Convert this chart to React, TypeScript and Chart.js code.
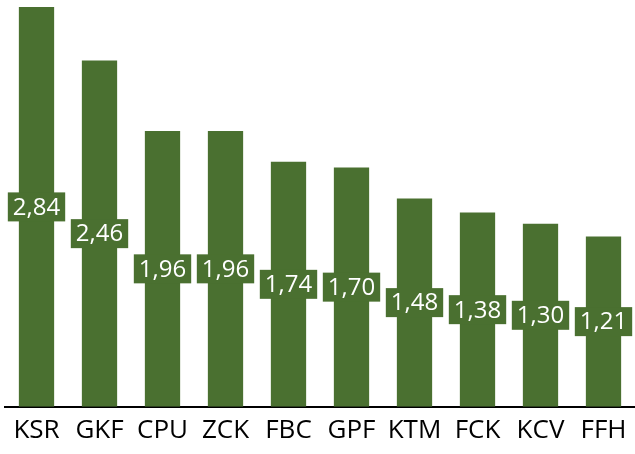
import React, { useEffect, useRef } from "react";
import { Chart, registerables } from "chart.js";

Chart.register(...registerables);

const categories = ["KSR", "GKF", "CPU", "ZCK", "FBC", "GPF", "KTM", "FCK", "KCV", "FFH"];
const values = [2.84, 2.46, 1.96, 1.96, 1.74, 1.7, 1.48, 1.38, 1.3, 1.21];
const barColor = "#4a7030";
const fontFamily = "'Open Sans', sans-serif";

const labelPlugin = {
  id: "midLabels",
  afterDatasetsDraw(chart: any) {
    const ctx = chart.ctx;
    const meta = chart.getDatasetMeta(0);
    ctx.save();
    ctx.font = `24px ${fontFamily}`;
    ctx.textAlign = "center";
    ctx.textBaseline = "middle";
    meta.data.forEach((bar: any, i: number) => {
      const txt = values[i].toFixed(2).replace(".", ",");
      const cy = (bar.y + bar.base) / 2;
      const w = ctx.measureText(txt).width + 10;
      const h = 29;
      ctx.fillStyle = barColor;
      ctx.fillRect(bar.x - w / 2, cy - h / 2, w, h);
      ctx.fillStyle = "#ffffff";
      ctx.fillText(txt, bar.x, cy + 1);
    });
    ctx.restore();
  },
};

export default function App() {
  const ref = useRef<HTMLCanvasElement>(null);
  useEffect(() => {
    document.body.style.margin = "0";
    const chart = new Chart(ref.current!, {
      type: "bar",
      data: {
        labels: categories,
        datasets: [
          {
            data: values,
            backgroundColor: barColor,
            barPercentage: 0.56,
            categoryPercentage: 1,
          },
        ],
      },
      options: {
        animation: false,
        responsive: false,
        maintainAspectRatio: false,
        layout: { padding: { left: 5, top: 7, right: 0, bottom: 0 } },
        plugins: { legend: { display: false }, tooltip: { enabled: false } },
        scales: {
          x: {
            grid: { display: false, drawTicks: false },
            border: { display: true, color: "#000000", width: 2 },
            ticks: {
              color: "#000000",
              font: { family: fontFamily, size: 26 },
              padding: 8,
              maxRotation: 0,
              autoSkip: false,
            },
          },
          y: {
            display: false,
            min: 0,
            max: 2.84,
          },
        },
      },
      plugins: [labelPlugin],
    });
    return () => chart.destroy();
  }, []);
  return (
    <div style={{ position: "absolute", left: 0, top: 0, width: 635, height: 454 }}>
      <canvas ref={ref} width={635} height={454} />
    </div>
  );
}
